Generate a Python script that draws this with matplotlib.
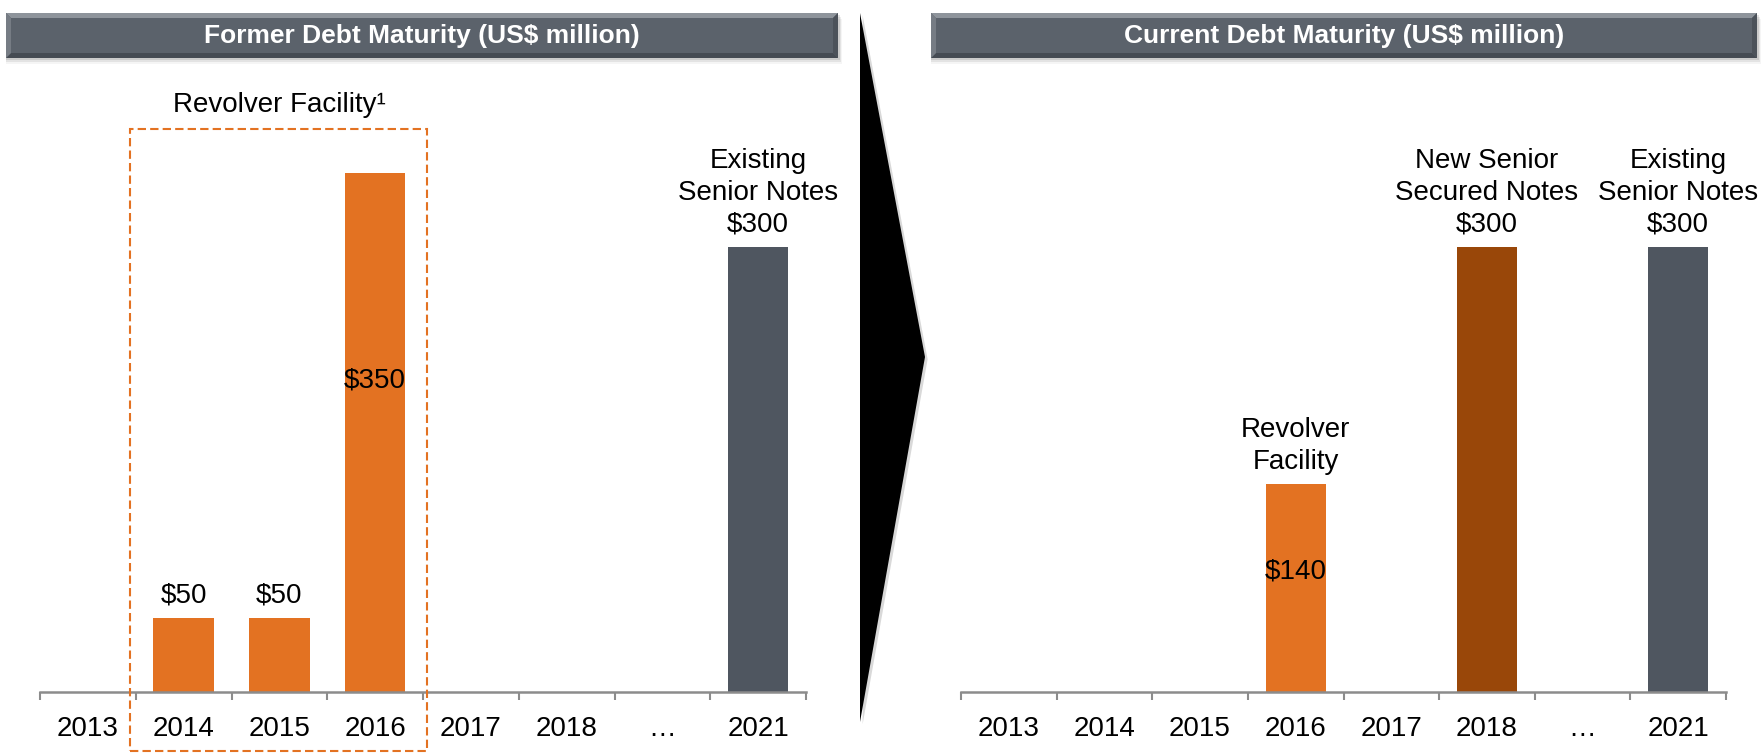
import numpy as np
import matplotlib.pyplot as plt
from matplotlib.patches import Rectangle, Polygon

years = ["2013", "2014", "2015", "2016", "2017", "2018", "…", "2021"]

# former debt (US$ million)
former_revolver = [0, 50, 50, 350, 0, 0, 0, 0]
former_notes = [0, 0, 0, 0, 0, 0, 0, 300]

# current debt (US$ million)
current_revolver = [0, 0, 0, 140, 0, 0, 0, 0]
current_secured = [0, 0, 0, 0, 0, 300, 0, 0]
current_notes = [0, 0, 0, 0, 0, 0, 0, 300]

orange = "#E37222"
brown = "#994709"
slate = "#4F5660"
axis_grey = "#8C8C8C"

regular = ["Liberation Sans", "DejaVu Sans"]

W, H = 1763, 753
fig = plt.figure(figsize=(W / 100, H / 100), dpi=100)


def px_box(x0, y0, x1, y1):
    # pixel box (top-left origin) -> figure fraction rect
    return [x0 / W, 1 - y1 / H, (x1 - x0) / W, (y1 - y0) / H]


def setup_axis(ax):
    x = np.arange(len(years))
    ax.set_xlim(-0.5, len(years) - 0.5)
    ax.set_ylim(0, 400)
    for s in ["top", "right", "left"]:
        ax.spines[s].set_visible(False)
    ax.spines["bottom"].set_color(axis_grey)
    ax.spines["bottom"].set_linewidth(1.8)
    ax.set_yticks([])
    ax.set_xticks(x)
    ax.set_xticklabels(years, fontsize=20, family=regular)
    ax.tick_params(axis="x", which="major", length=0, pad=17.5)
    ax.set_xticks(np.arange(len(years) + 1) - 0.5, minor=True)
    ax.tick_params(axis="x", which="minor", length=6, width=1.5, color=axis_grey)
    ax.patch.set_alpha(0)


def label_above(ax, i, value, text):
    ax.annotate(text, (i, value), xytext=(0, 7), textcoords="offset points",
                ha="center", va="bottom", fontsize=20, family=regular,
                linespacing=1.3)


def label_inside(ax, i, value):
    ax.text(i, value * 0.6, "$%d" % value, ha="center", va="center",
            fontsize=20, family=regular)


def title_bar(x0, x1, text):
    y0, y1 = 13, 58
    # soft drop shadow
    for k, a in enumerate([0.10, 0.07, 0.04]):
        fig.patches.append(Rectangle((x0 / W, 1 - (y1 + 2 + k * 2) / H),
                                     (x1 - x0 + 2 + k) / W, (y1 - y0) / H,
                                     transform=fig.transFigure, color="black",
                                     alpha=a, lw=0, zorder=1))
    fig.patches.append(Rectangle((x0 / W, 1 - y1 / H), (x1 - x0) / W, (y1 - y0) / H,
                                 transform=fig.transFigure, color="#5B626B",
                                 lw=0, zorder=2))
    # bevel edges
    b = 5
    top = [(x0, y0), (x1, y0), (x1 - b, y0 + b), (x0 + b, y0 + b)]
    bottom = [(x0, y1), (x1, y1), (x1 - b, y1 - b), (x0 + b, y1 - b)]
    left = [(x0, y0), (x0 + b, y0 + b), (x0 + b, y1 - b), (x0, y1)]
    right = [(x1, y0), (x1 - b, y0 + b), (x1 - b, y1 - b), (x1, y1)]
    for pts, c in [(top, "#8E949B"), (bottom, "#454B53"), (left, "#767C84"), (right, "#4C525A")]:
        fig.patches.append(Polygon([(px / W, 1 - py / H) for px, py in pts],
                                   closed=True, transform=fig.transFigure,
                                   color=c, lw=0, zorder=3))
    fig.text((x0 + x1) / 2 / W, 1 - (y0 + y1 + 2) / 2 / H, text, ha="center", va="center",
             color="white", fontsize=19, fontweight="bold", family=regular, zorder=4)


x = np.arange(len(years))
bar_w = 0.63

# left panel: former maturity profile
ax1 = fig.add_axes(px_box(40, 99, 806, 692))
setup_axis(ax1)
ax1.bar(x, former_revolver, width=bar_w, color=orange, zorder=2)
ax1.bar(x, former_notes, width=bar_w, color=slate, zorder=2)
for i, v in enumerate(former_revolver):
    if v == 0:
        continue
    if v > 100:
        label_inside(ax1, i, v)
    else:
        label_above(ax1, i, v, "$%d" % v)
for i, v in enumerate(former_notes):
    if v:
        label_above(ax1, i, v, "Existing\nSenior Notes\n$%d" % v)

# dashed outline around the revolver years
ax1.add_patch(Rectangle((1 - 0.56, -40), 2 + 1.1, 420, fill=False, ec=orange,
                        lw=1.5, ls=(0, (4, 2)), clip_on=False, zorder=3))
ax1.text(2, 396, "Revolver Facility¹", ha="center", va="center",
         fontsize=20, family=regular)

# right panel: current maturity profile
ax2 = fig.add_axes(px_box(961, 99, 1726, 692))
setup_axis(ax2)
ax2.bar(x, current_revolver, width=bar_w, color=orange, zorder=2)
ax2.bar(x, current_secured, width=bar_w, color=brown, zorder=2)
ax2.bar(x, current_notes, width=bar_w, color=slate, zorder=2)
for i, v in enumerate(current_revolver):
    if v:
        ax2.text(i, v * 0.58, "$%d" % v, ha="center", va="center",
                 fontsize=20, family=regular)
        label_above(ax2, i, v, "Revolver\nFacility")
for i, v in enumerate(current_secured):
    if v:
        label_above(ax2, i, v, "New Senior\nSecured Notes\n$%d" % v)
for i, v in enumerate(current_notes):
    if v:
        label_above(ax2, i, v, "Existing\nSenior Notes\n$%d" % v)

title_bar(6, 838, "Former Debt Maturity (US$ million)")
title_bar(931, 1757, "Current Debt Maturity (US$ million)")

# big arrow between the panels
arrow = [(860, 13), (925, 357), (860, 722)]
fig.patches.append(Polygon([(px / W + 0.0015, 1 - py / H - 0.003) for px, py in arrow],
                           closed=True, transform=fig.transFigure,
                           color="black", alpha=0.15, lw=0))
fig.patches.append(Polygon([(px / W, 1 - py / H) for px, py in arrow],
                           closed=True, transform=fig.transFigure,
                           color="black", lw=0))

fig.savefig("out.png", dpi=100, facecolor="white")
